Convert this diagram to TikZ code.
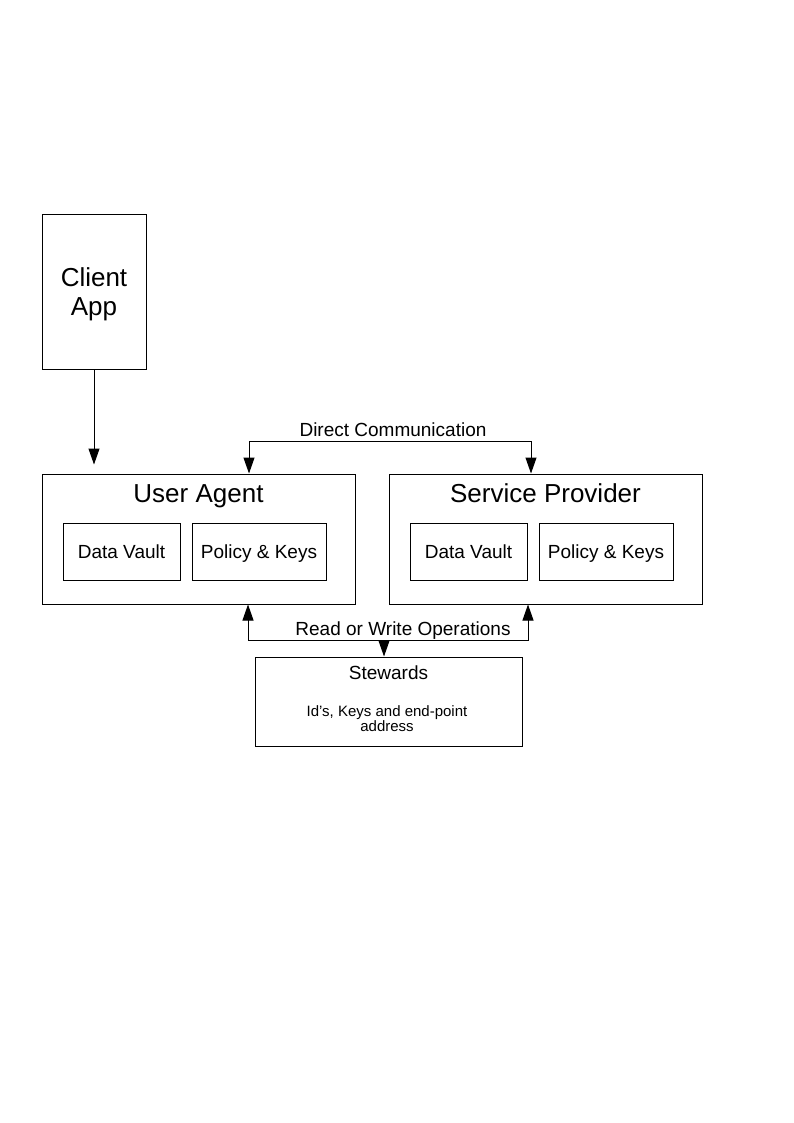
\documentclass[tikz,border=0pt]{standalone}
\usepackage{fontspec}
\setmainfont{Liberation Sans}
\usetikzlibrary{arrows.meta,calc}
\begin{document}
\begin{tikzpicture}[x=1pt,y=-1pt,
  box/.style={draw,line width=1pt,inner sep=0pt},
  one/.style={anchor=base,inner sep=0pt},
  big/.style={font=\fontsize{26}{29}\selectfont},
  mid/.style={font=\fontsize{19}{21}\selectfont},
  small/.style={font=\fontsize{15}{15}\selectfont},
  conn/.style={line width=1pt,-{Triangle[length=16pt,width=11pt]}},
  conn2/.style={line width=1pt,{Triangle[length=16pt,width=11pt]}-{Triangle[length=16pt,width=11pt]}}]
\path[use as bounding box,fill=white] (0,0) rectangle (794,1123);
% Client App
\node[box,minimum width=104pt,minimum height=154pt] (ca) at (94,292) {};
\node[big,one] (cat1) at (94,286) {Client};
\node[big,one] (cat2) at (94,315) {App};
% User Agent
\node[box,minimum width=313pt,minimum height=130pt] (ua) at (198.5,539) {};
\node[big,one] (uat) at (198.5,502) {User Agent};
\node[box,minimum width=117pt,minimum height=57pt] (uadv) at (121.5,551.5) {};
\node[mid,one] (uadvt) at (121.5,558) {Data Vault};
\node[box,minimum width=134pt,minimum height=57pt] (uapk) at (259,551.5) {};
\node[mid,one] (uapkt) at (259,558) {Policy \& Keys};
% Service Provider
\node[box,minimum width=313pt,minimum height=130pt] (sp) at (545.5,539) {};
\node[big,one] (spt) at (545.5,502) {Service Provider};
\node[box,minimum width=117pt,minimum height=57pt] (spdv) at (468.5,551.5) {};
\node[mid,one] (spdvt) at (468.5,558) {Data Vault};
\node[box,minimum width=134pt,minimum height=57pt] (sppk) at (606,551.5) {};
\node[mid,one] (sppkt) at (606,558) {Policy \& Keys};
% Stewards
\node[box,minimum width=267pt,minimum height=89pt] (st) at (388.5,701.5) {};
\node[mid,one] (stt) at (388.5,679) {Stewards};
\node[small,one] (std1) at (387,716) {Id's, Keys and end-point};
\node[small,one] (std2) at (387,731) {address};
% connectors
\draw[conn,shorten >=9pt] (ca.south) -- (ca.south |- ua.north);
\draw[conn2] ([xshift=50.5pt]ua.north) |- ++(0,-32) -| ([xshift=-14.5pt]sp.north);
\draw[conn2] ([xshift=49.5pt]ua.south) |- ++(0,36) -| ([xshift=-17.5pt]sp.south);
\coordinate (rw) at (384,640);
\draw[conn] (rw) -- (rw |- st.north);
\node[mid,one] (dc) at (393,436.5) {Direct Communication};
\node[mid,one] (rwl) at (403,635.5) {Read or Write Operations};
\end{tikzpicture}
\end{document}
